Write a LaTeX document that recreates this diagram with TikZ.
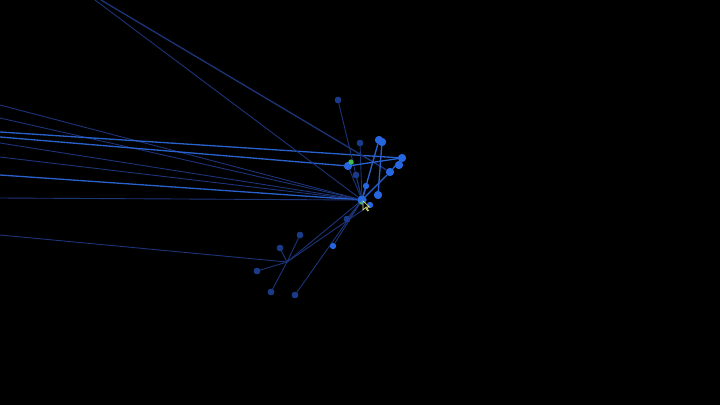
\documentclass[tikz,border=0pt]{standalone}
\usetikzlibrary{calc,positioning}
\definecolor{linkdim}{RGB}{28,52,120}
\definecolor{linkblue}{RGB}{42,98,205}
\definecolor{nodeblue}{RGB}{38,102,222}
\definecolor{nodedim}{RGB}{28,58,138}
\definecolor{nodegreen}{RGB}{62,190,78}
\definecolor{cursoryel}{RGB}{225,235,120}

\begin{document}
\begin{tikzpicture}[x=1pt,y=-1pt]
        \tikzstyle{bnode} = [circle, fill=nodeblue, inner sep=0pt, minimum size=8pt]
        \tikzstyle{dnode} = [circle, fill=nodedim, draw=nodeblue!60!black, inner sep=0pt, minimum size=6pt]
        \tikzstyle{gnode} = [circle, fill=nodegreen, inner sep=0pt, minimum size=5pt]
        \tikzstyle{link} = [draw=linkdim, line width=0.9pt]
        \tikzstyle{blink} = [draw=linkblue, line width=1.3pt]
        \fill[black] (0,0) rectangle (720,405);
        \useasboundingbox (0,0) rectangle (720,405);

        % far ends of the links
        \coordinate (l1) at (0,105);
        \coordinate (l2) at (0,118);
        \coordinate (l3) at (0,132);
        \coordinate (l4) at (0,137);
        \coordinate (l5) at (0,143);
        \coordinate (l6) at (0,157);
        \coordinate (l7) at (0,175);
        \coordinate (l8) at (0,198);
        \coordinate (l9) at (0,235);
        \coordinate (t1) at (95,0);
        \coordinate (t2) at (101,0);
        \coordinate (p) at (287,262);

        % upper cluster
        \node[bnode, minimum size=9pt] (hub) at (362,200) {};
        \node[dnode] (a) at (338,100) {};
        \node[dnode] (b) at (360,143) {};
        \node[bnode] (c1) at (379,140) {};
        \node[bnode] (c2) at (382,142) {};
        \node[gnode] (d) at (351,162) {};
        \node[bnode] (e) at (348,166) {};
        \node[bnode] (f) at (402,158) {};
        \node[bnode] (g) at (399,165) {};
        \node[bnode] (h) at (390,172) {};
        \node[dnode] (i) at (356,175) {};
        \node[bnode, minimum size=6pt] (j) at (366,186) {};
        \node[bnode] (k) at (378,195) {};
        \node[bnode, minimum size=6pt] (m) at (370,205) {};
        \node[dnode] (n) at (347,219) {};
        \node[bnode, minimum size=6pt] (o) at (333,246) {};

        % lower cluster
        \node[dnode] (q) at (300,235) {};
        \node[dnode] (r) at (280,248) {};
        \node[dnode] (s) at (257,271) {};
        \node[dnode] (t) at (271,292) {};
        \node[dnode] (u) at (295,295) {};

        \draw[link] (l1) to (hub);
        \draw[link] (l2) to (hub);
        \draw[blink] (l3) to (f);
        \draw[blink] (l4) to (e);
        \draw[link] (l5) to (hub);
        \draw[link] (l6) to (hub);
        \draw[blink] (l7) to (hub);
        \draw[link] (l8) to (hub);
        \draw[link] (l9) to (p);
        \draw[link] (t1) to (hub);
        \draw[link, line width=1.3pt] (t2) to (h);

        \draw[link] (a) to (hub);
        \draw[link] (b) to (hub);
        \draw[blink] (c1) to (hub);
        \draw[blink] (c2) to (k);
        \draw[link] (e) to (hub);
        \draw[blink] (e) to (f);
        \draw[blink] (f) to (h);
        \draw[blink] (h) to (hub);
        \draw[link] (i) to (hub);
        \draw[blink] (j) to (hub);
        \draw[link] (n) to (hub);
        \draw[link] (o) to (hub);
        \draw[link] (u) to (hub);
        \draw[link] (p) to (hub);
        \draw[link] (p) to (m);
        \draw[link] (q) to (p);
        \draw[link] (r) to (p);
        \draw[link] (s) to (p);
        \draw[link] (t) to (p);

        % redraw nodes on top of links
        \foreach \nd/\sty in {a/dnode,b/dnode,c1/bnode,c2/bnode,e/bnode,d/gnode,f/bnode,g/bnode,h/bnode,i/dnode,k/bnode,n/dnode,q/dnode,r/dnode,s/dnode,t/dnode,u/dnode}
          \node[\sty] at (\nd) {};
        \node[bnode, minimum size=6pt] at (j) {};
        \node[bnode, minimum size=6pt] at (m) {};
        \node[bnode, minimum size=6pt] at (o) {};
        \node[bnode, minimum size=9pt] at (hub) {};
        \node[gnode, minimum size=3pt] (hubg) at (361,203) {};

        % mouse pointer
        \draw[cursoryel, line width=0.6pt, fill=black] (363,201) -- (363,210) -- (365.5,207.5) -- (367.5,211) -- (368.5,210.5) -- (366.5,207) -- (369.5,207) -- cycle;
      \end{tikzpicture}
\end{document}
